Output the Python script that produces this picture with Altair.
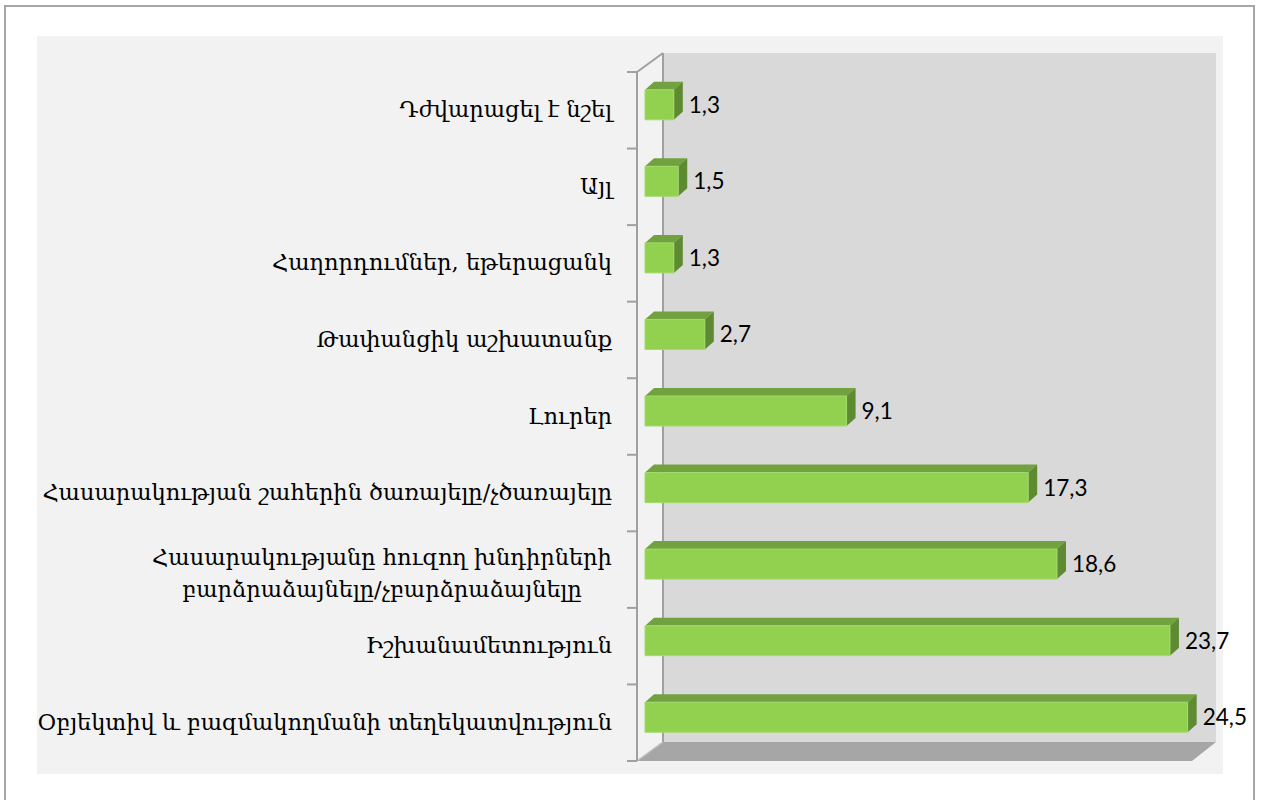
import altair as alt
import pandas as pd

# ---- data (top to bottom) ----
categories = [
    "Դժվարացել է նշել",
    "Այլ",
    "Հաղորդումներ, եթերացանկ",
    "Թափանցիկ աշխատանք",
    "Լուրեր",
    "Հասարակության շահերին ծառայելը/չծառայելը",
    "Հասարակությանը հուզող խնդիրների\nբարձրաձայնելը/չբարձրաձայնելը",
    "Իշխանամետություն",
    "Օբյեկտիվ և բազմակողմանի տեղեկատվություն",
]
values = [1.3, 1.5, 1.3, 2.7, 9.1, 17.3, 18.6, 23.7, 24.5]

df = pd.DataFrame({"cat": categories, "value": values, "pos": list(range(len(categories)))})
n = len(categories)
bounds = pd.DataFrame({"b": [k - 0.5 for k in range(n + 1)]})
one = pd.DataFrame({"z": [0]})

# ---- style ----
FRONT = "#92D050"
TOP = "#72A23F"
SIDE = "#5E8A31"
WALL = "#D9D9D9"
BG = "#F2F2F2"
FLOOR = "#A6A6A6"
LINE = "#A0A0A0"
LABEL_FONT = "DejaVu Serif"
LABEL_SIZE = 22.5

X0, XPX = 645, 22.15          # zero position and px per unit
XMAX = 25
Y0, Y1 = 72, 761              # front plane top / bottom
band = (Y1 - Y0) / n
DX, DY = 9, 8                 # bar depth in px
DXU, DYU = DX / XPX, DY / band
FT, FB = -20.5, 9.5           # front face top / bottom relative to band centre

xscale = alt.Scale(domain=[0, XMAX], range=[X0, X0 + XMAX * XPX], nice=False, zero=False)
yscale = alt.Scale(domain=[-0.5, n - 0.5], range=[Y0, Y1], nice=False, zero=False)

def poly(path, color):
    return alt.Chart(one).mark_point(shape=path, size=4, filled=True, fill=color,
                                     opacity=1, strokeWidth=0).encode(
        x=alt.value(0), y=alt.value(0))

def rule(x1, y1, x2, y2, color=LINE, w=2):
    return alt.Chart(one).mark_rule(color=color, strokeWidth=w).encode(
        x=alt.value(x1), y=alt.value(y1), x2=alt.value(x2), y2=alt.value(y2))

border = alt.Chart(one).mark_rect(fill="white", stroke="#A6A6A6", strokeWidth=2).encode(
    x=alt.value(5), x2=alt.value(1254), y=alt.value(6), y2=alt.value(830))
bgrect = alt.Chart(one).mark_rect(fill=BG).encode(
    x=alt.value(37), x2=alt.value(1223), y=alt.value(36), y2=alt.value(774))
wall = alt.Chart(one).mark_rect(fill=WALL).encode(
    x=alt.value(663), x2=alt.value(1216), y=alt.value(53), y2=alt.value(742))
floor = poly("M637,761L663,742L1216,742L1192,761Z", FLOOR)
wall_edge = rule(663, 53, 663, 742)
top_diag = rule(637, 72, 663, 53)
bot_diag = rule(637, 761, 663, 742, color="#BDBDBD", w=1.5)

axis_line = alt.Chart(one).mark_rule(color=LINE, strokeWidth=2).encode(
    x=alt.value(637),
    y=alt.Y("a:Q", scale=yscale, axis=None),
    y2=alt.Y2("b:Q"),
).transform_calculate(a="-0.5", b=str(n - 0.5))

ticks = alt.Chart(bounds).mark_rule(color=LINE, strokeWidth=2).encode(
    x=alt.value(627), x2=alt.value(637),
    y=alt.Y("b:Q", scale=yscale, axis=None))

base = alt.Chart(df)

top_face = base.transform_calculate(
    yf="datum.pos", yb=f"datum.pos - {DYU}"
).transform_fold(["yf", "yb"], as_=["side", "yv"]).transform_calculate(
    xa=f"datum.side == 'yb' ? {DXU} : 0",
    xb=f"datum.side == 'yb' ? datum.value + {DXU} : datum.value",
).mark_area(orient="horizontal", color=TOP, opacity=1, yOffset=FT).encode(
    y=alt.Y("yv:Q", scale=yscale, axis=None),
    x=alt.X("xa:Q", scale=xscale, axis=None),
    x2="xb:Q",
    detail="cat:N",
)

side_face = base.mark_point(
    shape=f"M0,{FT}L{DX},{FT - DY}L{DX},{FB - DY}L0,{FB}Z",
    size=4, filled=True, fill=SIDE, opacity=1, strokeWidth=0,
).encode(
    x=alt.X("value:Q", scale=xscale, axis=None),
    y=alt.Y("pos:Q", scale=yscale, axis=None),
)

front_face = base.mark_rect(fill=FRONT, stroke="#A3DA6B", strokeWidth=1,
                            yOffset=FT, y2Offset=FB).encode(
    x=alt.X("value:Q", scale=xscale, axis=None),
    x2=alt.datum(0),
    y=alt.Y("pos:Q", scale=yscale, axis=None),
    y2="pos:Q",
)

value_labels = base.transform_calculate(
    lab="replace(format(datum.value, '.1f'), '.', ',')"
).mark_text(align="left", baseline="middle", dx=15, dy=(FT + FB) / 2 + 1,
            font="Lato", fontSize=22.5, color="black").encode(
    x=alt.X("value:Q", scale=xscale, axis=None),
    y=alt.Y("pos:Q", scale=yscale, axis=None),
    text="lab:N",
)

cat_single = base.transform_filter("indexof(datum.cat, '\\n') < 0").mark_text(
    align="right", baseline="middle", font=LABEL_FONT, fontSize=LABEL_SIZE,
    color="black").encode(
    x=alt.value(612),
    y=alt.Y("pos:Q", scale=yscale, axis=None),
    text="cat:N",
)

cat_multi = base.transform_filter("indexof(datum.cat, '\\n') >= 0").mark_text(
    align="center", baseline="middle", lineBreak="\n", lineHeight=32, dy=-12,
    font=LABEL_FONT, fontSize=LABEL_SIZE, color="black").encode(
    x=alt.value(382),
    y=alt.Y("pos:Q", scale=yscale, axis=None),
    text="cat:N",
)

chart = alt.layer(
    border, bgrect, wall, floor, wall_edge, top_diag, bot_diag, axis_line, ticks,
    top_face, side_face, front_face, value_labels, cat_single, cat_multi,
).properties(
    width=1262, height=800, padding=0, autosize=alt.AutoSizeParams(type="none"),
    background="white",
).configure_view(stroke=None)

chart.save("out.html", embed_options={"renderer": "svg", "actions": False})
